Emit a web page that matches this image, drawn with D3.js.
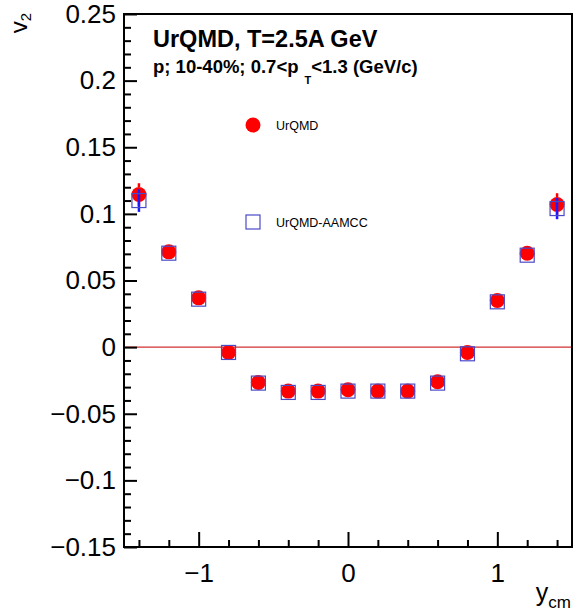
<!DOCTYPE html>
<html>
<head>
<meta charset="utf-8">
<script src="https://cdn.jsdelivr.net/npm/d3@7"></script>
<style>
  html, body { margin: 0; padding: 0; background: #fff; }
  svg { display: block; font-family: "Liberation Sans", Arial, Helvetica, sans-serif; }
</style>
</head>
<body>
<svg id="chart" width="573" height="614"></svg>
<script>
// Proton elliptic flow vs. rapidity, 10-40% centrality
const rapidity   = [-1.4, -1.2, -1.0, -0.8, -0.6, -0.4, -0.2, 0.0, 0.2, 0.4, 0.6, 0.8, 1.0, 1.2, 1.4];
const v2Urqmd    = [0.1145, 0.0715, 0.037, -0.004, -0.0265, -0.033, -0.033, -0.032, -0.033, -0.033, -0.026, -0.004, 0.035, 0.0705, 0.107];
const errUrqmd   = [0.0085, 0.0015, 0.0015, 0.0015, 0.0015, 0.0015, 0.0015, 0.0015, 0.0015, 0.0015, 0.0015, 0.0015, 0.0015, 0.0015, 0.0085];
const v2Aamcc    = [0.110, 0.0705, 0.036, -0.004, -0.027, -0.034, -0.034, -0.033, -0.033, -0.033, -0.027, -0.005, 0.034, 0.069, 0.104];
const errAamcc   = [0.0085, 0.0015, 0.0015, 0.0015, 0.0015, 0.0015, 0.0015, 0.0015, 0.0015, 0.0015, 0.0015, 0.0015, 0.0015, 0.0015, 0.008];

const xMajorTicks = [-1, 0, 1];
const xTickLabels = ["\u22121", "0", "1"];
const xMinorTicks = [-1.4, -1.2, -0.8, -0.6, -0.4, -0.2, 0.2, 0.4, 0.6, 0.8, 1.2, 1.4];
const yMajorTicks = [-0.15, -0.1, -0.05, 0, 0.05, 0.1, 0.15, 0.2, 0.25];
const yTickLabels = ["\u22120.15", "\u22120.1", "\u22120.05", "0", "0.05", "0.1", "0.15", "0.2", "0.25"];
const yMinorTicks = d3.range(-15, 26).filter(i => i % 5 !== 0).map(i => i / 100);

const seriesNames = ["UrQMD", "UrQMD-AAMCC"];

const svg = d3.select("#chart");
const x0 = 124, x1 = 572, y0 = 14, y1 = 547;
const x = d3.scaleLinear().domain([-1.5, 1.5]).range([x0, x1]);
const y = d3.scaleLinear().domain([-0.15, 0.25]).range([y1, y0]);

const red = "#ff0000";
const blue = "#4a4ac8";
const rMarker = 7.5;
const sq = 14;

// zero reference line
svg.append("line")
  .attr("x1", x0).attr("x2", x1)
  .attr("y1", y(0)).attr("y2", y(0))
  .attr("stroke", "#d03030").attr("stroke-width", 1.3);

// axes: major and minor ticks pointing into the frame
svg.append("g").attr("transform", `translate(${x0},0)`)
  .call(d3.axisLeft(y).tickValues(yMajorTicks)
    .tickFormat((d, i) => yTickLabels[i])
    .tickSizeInner(-13).tickSizeOuter(0).tickPadding(8));
svg.append("g").attr("transform", `translate(${x0},0)`)
  .call(d3.axisLeft(y).tickValues(yMinorTicks).tickFormat("")
    .tickSizeInner(-7).tickSizeOuter(0));

svg.append("g").attr("transform", `translate(0,${y1})`)
  .call(d3.axisBottom(x).tickValues(xMajorTicks)
    .tickFormat((d, i) => xTickLabels[i])
    .tickSizeInner(-15).tickSizeOuter(0).tickPadding(17));
svg.append("g").attr("transform", `translate(0,${y1})`)
  .call(d3.axisBottom(x).tickValues(xMinorTicks).tickFormat("")
    .tickSizeInner(-7).tickSizeOuter(0));

svg.selectAll(".domain").remove();
svg.selectAll(".tick line").attr("stroke", "#000").attr("stroke-width", 2);
svg.selectAll(".tick text").attr("font-size", 26).attr("font-family", "Liberation Sans, Arial, sans-serif").attr("fill", "#000");

// frame
svg.append("rect")
  .attr("x", x0).attr("y", y0)
  .attr("width", x1 - x0).attr("height", y1 - y0)
  .attr("fill", "none").attr("stroke", "#000").attr("stroke-width", 2);

const pts = rapidity.map((r, i) => ({ r, a: v2Urqmd[i], ea: errUrqmd[i], b: v2Aamcc[i], eb: errAamcc[i] }));

// error bars: the part hidden by the marker is skipped
function errSegments(val, err, half) {
  const c = y(val), top = y(val + err), bot = y(val - err);
  const segs = [];
  if (c - top > half) segs.push([top, c - half]);
  if (bot - c > half) segs.push([c + half, bot]);
  return segs;
}

// UrQMD: error bars and filled circles
svg.append("g").selectAll("line")
  .data(pts.flatMap(d => errSegments(d.a, d.ea, rMarker).map(s => ({ r: d.r, s }))))
  .join("line")
  .attr("x1", d => x(d.r)).attr("x2", d => x(d.r))
  .attr("y1", d => d.s[0]).attr("y2", d => d.s[1])
  .attr("stroke", red).attr("stroke-width", 2.5);
svg.append("g").selectAll("circle").data(pts).join("circle")
  .attr("cx", d => x(d.r)).attr("cy", d => y(d.a))
  .attr("r", rMarker).attr("fill", red);

// UrQMD-AAMCC: error bars and open squares
svg.append("g").selectAll("line")
  .data(pts.filter(d => y(d.b - d.eb) - y(d.b + d.eb) > sq))
  .join("line")
  .attr("x1", d => x(d.r)).attr("x2", d => x(d.r))
  .attr("y1", d => y(d.b - d.eb)).attr("y2", d => y(d.b + d.eb))
  .attr("stroke", "#1a1aff").attr("stroke-width", 2.5);
svg.append("g").selectAll("rect").data(pts).join("rect")
  .attr("x", d => x(d.r) - sq / 2).attr("y", d => y(d.b) - sq / 2)
  .attr("width", sq).attr("height", sq)
  .attr("fill", "none").attr("stroke", blue).attr("stroke-width", 1.2);

// legend
const legend = svg.append("g");
legend.append("circle").attr("cx", 253).attr("cy", 125).attr("r", rMarker).attr("fill", red);
legend.append("rect").attr("x", 253 - sq / 2).attr("y", 222 - sq / 2).attr("width", sq).attr("height", sq)
  .attr("fill", "none").attr("stroke", blue).attr("stroke-width", 1.2);
legend.selectAll("text").data(seriesNames).join("text")
  .attr("x", 276).attr("y", (d, i) => i === 0 ? 125 : 222)
  .attr("dy", "0.36em").attr("font-size", 12.5).attr("fill", "#000")
  .text(d => d);

// header
svg.append("text").attr("x", 153).attr("y", 47)
  .attr("font-size", 23.5).attr("font-weight", "bold").text("UrQMD, T=2.5A GeV");
const sub = svg.append("text").attr("x", 153).attr("y", 73)
  .attr("font-size", 18.5).attr("font-weight", "bold");
sub.append("tspan").text("p; 10-40%; 0.7<p");
sub.append("tspan").attr("font-size", 11).attr("dx", 6).attr("dy", 11).text("T");
sub.append("tspan").attr("dy", -11).text("<1.3 (GeV/c)");

// axis titles
const yt = svg.append("text").attr("transform", "translate(27,13) rotate(-90)")
  .attr("text-anchor", "end").attr("font-size", 24);
yt.append("tspan").text("v");
yt.append("tspan").attr("font-size", 15).attr("dy", 4).text("2");

const xt = svg.append("text").attr("x", 571).attr("y", 601)
  .attr("text-anchor", "end").attr("font-size", 25);
xt.append("tspan").text("y");
xt.append("tspan").attr("font-size", 17).attr("dy", 7).text("cm");
</script>
</body>
</html>
